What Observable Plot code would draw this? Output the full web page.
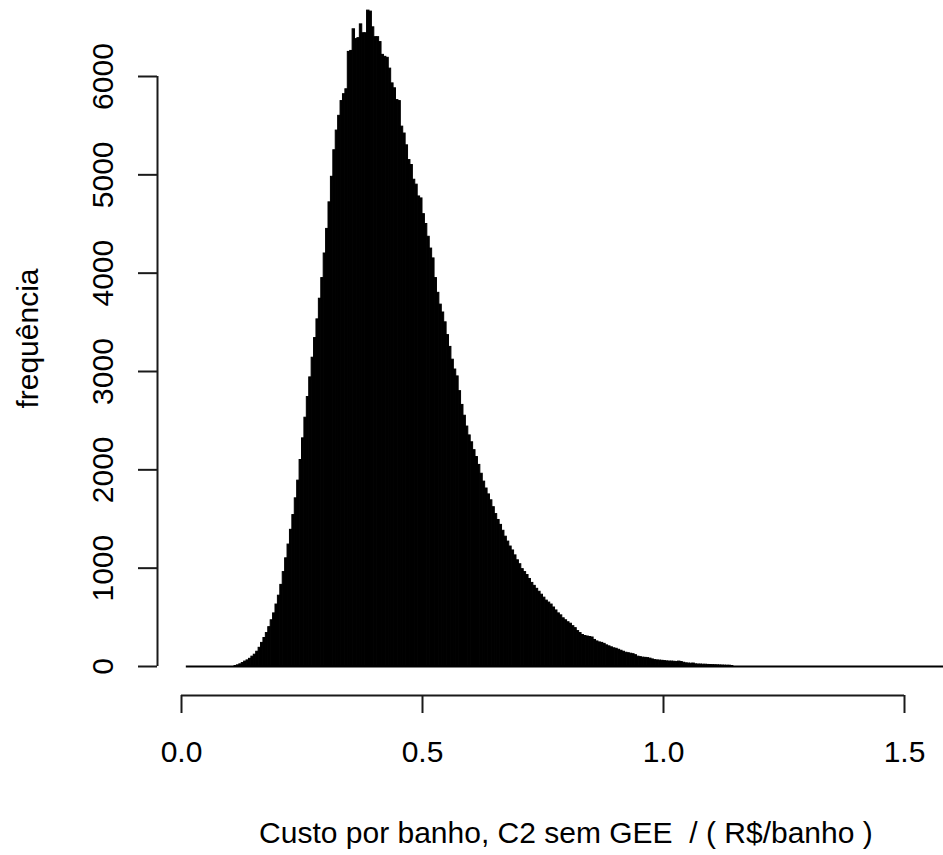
<!DOCTYPE html>
<html>
<head>
<meta charset="utf-8">
<script src="https://cdn.jsdelivr.net/npm/d3@7"></script>
<script src="https://cdn.jsdelivr.net/npm/@observablehq/plot@0.6"></script>
<style>
  html, body { margin: 0; padding: 0; background: #fff; }
</style>
</head>
<body>
<div id="chart"></div>
<script>
// Histogram bins (regular breaks) and counts
const binStart = 0.11;
const binWidth = 0.005;
const counts = [
  5, 12, 22, 35, 50, 62, 78, 100, 120, 150,
  190, 240, 290, 340, 400, 470, 540, 630, 720, 830,
  960, 1100, 1240, 1390, 1540, 1710, 1890, 2100, 2320, 2530,
  2740, 2940, 3140, 3340, 3530, 3740, 3950, 4200, 4450, 4720,
  4980, 5250, 5450, 5600, 5750, 5820, 5870, 6250, 6260, 6480,
  6380, 6390, 6530, 6440, 6440, 6670, 6660, 6500, 6400, 6400,
  6350, 6220, 6200, 6190, 6080, 5930, 5880, 5760, 5750, 5490,
  5420, 5300, 5150, 5100, 4950, 4900, 4780, 4760, 4600, 4500,
  4370, 4250, 4150, 3950, 3800, 3680, 3600, 3500, 3370, 3250,
  3120, 3020, 2950, 2800, 2660, 2550, 2440, 2350, 2280, 2200,
  2130, 2050, 1960, 1880, 1810, 1750, 1690, 1620, 1550, 1490,
  1440, 1380, 1320, 1270, 1220, 1180, 1130, 1080, 1040, 990,
  960, 930, 890, 850, 820, 790, 760, 730, 700, 670,
  650, 630, 600, 570, 540, 520, 490, 470, 450, 435,
  410, 390, 360, 340, 320, 310, 305, 300, 295, 270,
  255, 245, 240, 230, 215, 205, 195, 185, 180, 170,
  160, 150, 140, 135, 130, 125, 115, 100, 95, 90,
  88, 85, 80, 72, 65, 62, 60, 58, 55, 52,
  50, 50, 48, 45, 50, 45, 38, 32, 30, 28,
  30, 22, 20, 20, 18, 18, 16, 15, 14, 13,
  12, 11, 10, 9, 8, 8, 5
];
// full range of the histogram breaks (empty bins drawn as the zero line)
const breakRange = [0.01, 1.585];
const xTicks = [0, 0.5, 1.0, 1.5];
const yTicks = [0, 1000, 2000, 3000, 4000, 5000, 6000];
const xLabel = "Custo por banho, C2 sem GEE\u00a0 / ( R$/banho )";
const yLabel = "frequência";

const bins = counts.map((c, i) => ({
  x1: binStart + i * binWidth,
  x2: binStart + (i + 1) * binWidth,
  count: c
}));

const lineColor = "#1a1a1a";

const chart = Plot.plot({
  width: 943,
  height: 855,
  marginLeft: 157,
  marginRight: 0,
  marginTop: 0,
  marginBottom: 160,
  style: {
    fontFamily: "'Liberation Sans', Arial, sans-serif",
    fontSize: "30px",
    color: "#000",
    background: "#fff"
  },
  x: { domain: [0, 1.5], range: [181, 904] },
  y: { domain: [0, 6000], range: [666, 76] },
  marks: [
    // zero line spanning all breaks
    Plot.ruleY([0], { x1: breakRange[0], x2: breakRange[1], stroke: "#000", strokeWidth: 2 }),
    // bars
    Plot.rectY(bins, { x1: "x1", x2: "x2", y: "count", fill: "#000", stroke: "#000", strokeWidth: 1, inset: 0 }),
    // axis lines (R style: offset from the data, from first to last tick)
    Plot.ruleY([0], { x1: xTicks[0], x2: xTicks[xTicks.length - 1], dy: 29, stroke: lineColor, strokeWidth: 2 }),
    Plot.ruleX([xTicks[0]], { y1: yTicks[0], y2: yTicks[yTicks.length - 1], dx: -24, stroke: lineColor, strokeWidth: 2 }),
    Plot.axisX({
      ticks: xTicks, tickFormat: d3.format(".1f"), tickSize: 18, tickPadding: 27,
      strokeWidth: 2, stroke: lineColor, fontSize: 30, label: null
    }),
    Plot.axisY({
      ticks: yTicks, tickFormat: d => String(d), tickSize: 19, tickPadding: 26, tickRotate: -90,
      strokeWidth: 2, stroke: lineColor, fontSize: 30, label: null
    }),
    // axis titles
    Plot.text([xLabel], {
      x: (breakRange[0] + breakRange[1]) / 2, frameAnchor: "bottom", dy: 147,
      lineAnchor: "bottom", textAnchor: "middle", fontSize: 30, fill: "#000"
    }),
    Plot.text([yLabel], {
      y: d3.max(counts) / 2, frameAnchor: "left", dx: -120, rotate: -90,
      lineAnchor: "bottom", textAnchor: "middle", fontSize: 30, fill: "#000"
    })
  ]
});

document.getElementById("chart").appendChild(chart);
</script>
</body>
</html>
